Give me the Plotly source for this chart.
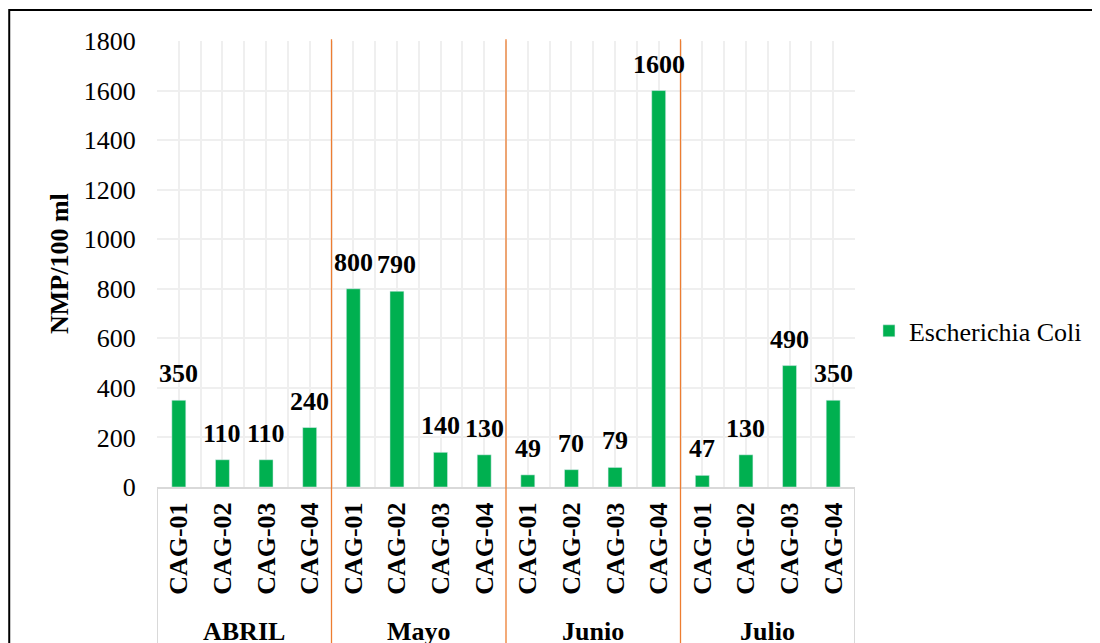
import plotly.graph_objects as go

# data
months = ["ABRIL", "Mayo", "Junio", "Julio"]
sites = ["CAG-01", "CAG-02", "CAG-03", "CAG-04"]
abril = [350, 110, 110, 240]
mayo = [800, 790, 140, 130]
junio = [49, 70, 79, 1600]
julio = [47, 130, 490, 350]
series_name = "Escherichia Coli"
y_ticks = [0, 200, 400, 600, 800, 1000, 1200, 1400, 1600, 1800]

values = abril + mayo + junio + julio
labels = sites * len(months)
pos = list(range(len(values)))

GREEN = "#00B050"
ORANGE = "#ED7D31"
FONT = "Liberation Serif"

fig = go.Figure()
fig.add_trace(go.Bar(x=pos, y=values, name=series_name, marker_color=GREEN,
                     width=0.32, showlegend=True))

# tick positions: labels at bar centres, gridlines every half category
tickvals, ticktext = [], []
for p, lab in zip(pos, labels):
    tickvals += [p - 0.5, p]
    ticktext += ["", "<b>" + lab + "</b>"]
tickvals.append(pos[-1] + 0.5)
ticktext.append("")

# value labels above the bars
for p, v in zip(pos, values):
    fig.add_annotation(x=p, y=v, text="<b>%d</b>" % v, showarrow=False,
                       yanchor="bottom", yshift=10,
                       font=dict(family=FONT, size=26, color="black"))

# month labels and separators
n = len(sites)
for i, m in enumerate(months):
    fig.add_annotation(x=i * n + (n - 1) / 2, y=-0.323, xref="x", yref="paper",
                       text="<b>" + m + "</b>", showarrow=False, yanchor="middle",
                       xanchor="center",
                       font=dict(family=FONT, size=26, color="black"))
    if i > 0:
        fig.add_shape(type="line", xref="x", yref="paper", x0=i * n - 0.5, x1=i * n - 0.5,
                      y0=-0.36, y1=1.004, line=dict(color=ORANGE, width=1.3), layer="above")
for edge in (-0.5, pos[-1] + 0.5):
    fig.add_shape(type="line", xref="x", yref="paper", x0=edge, x1=edge,
                  y0=-0.36, y1=0, line=dict(color="#D9D9D9", width=2))

# y axis title
fig.add_annotation(x=-0.1404, y=0.5, xref="paper", yref="paper", text="<b>NMP/100 ml</b>",
                   textangle=-90, showarrow=False, xanchor="center", yanchor="middle",
                   font=dict(family=FONT, size=26, color="black"))

# outer frame
fig.add_shape(type="rect", xref="paper", yref="paper", x0=-0.2117, x1=1.3431,
              y0=-0.5, y1=1.0695, line=dict(color="black", width=2))

# the page body adds 8px on top/left, so the figure is 8px smaller
fig.update_layout(
    width=1092, height=635,
    margin=dict(l=149, r=245, t=33, b=156, autoexpand=False),
    paper_bgcolor="white", plot_bgcolor="white",
    font=dict(family=FONT, size=26, color="black"),
    xaxis=dict(range=[-0.5, pos[-1] + 0.5], tickmode="array", tickvals=tickvals,
               ticktext=ticktext, tickangle=-90, showgrid=True, gridcolor="#EFEFEF",
               gridwidth=1.5, ticks="outside", ticklen=3, tickcolor="rgba(0,0,0,0)",
               showline=True, linecolor="#D9D9D9", linewidth=2, automargin=False,
               tickfont=dict(family=FONT, size=26, color="black")),
    yaxis=dict(range=[0, 1800], tickvals=y_ticks, showgrid=True, gridcolor="#EFEFEF",
               gridwidth=1.5, zeroline=False, ticks="outside", ticklen=15,
               tickcolor="rgba(0,0,0,0)", automargin=False,
               tickfont=dict(family=FONT, size=26, color="black")),
    legend=dict(x=1.02, y=0.35, xanchor="left", yanchor="middle",
                bgcolor="rgba(0,0,0,0)",
                font=dict(family=FONT, size=26, color="black")),
    showlegend=True,
)

fig.write_html("out.html")
